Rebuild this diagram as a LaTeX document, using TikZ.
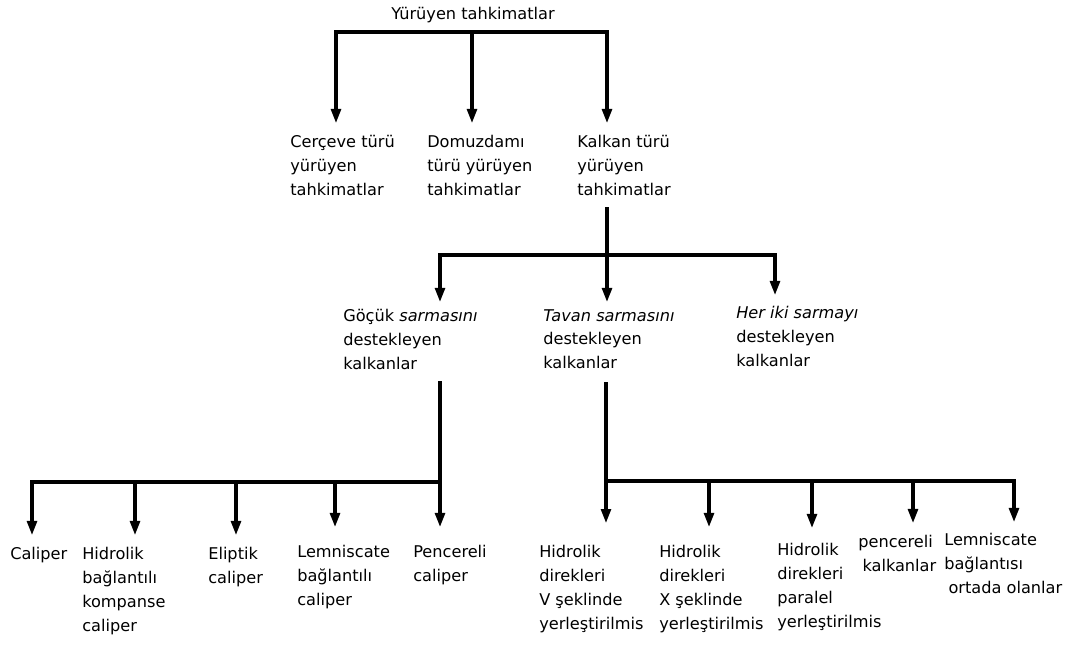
\documentclass[tikz,border=0pt]{standalone}
\usepackage{fontspec}
\setmainfont{DejaVu Sans}
\usetikzlibrary{arrows.meta}

\begin{document}
\begin{tikzpicture}[x=0.025cm, y=-0.025cm,
    bar/.style={line width=2.2pt, line cap=rect},
    arr/.style={line width=2.2pt, -{Triangle[width=7pt,length=10pt]}},
    lbl/.style={anchor=north west, inner sep=0pt, align=left, font=\fontsize{11.5}{17}\selectfont}]
\useasboundingbox (0,0) rectangle (1070,646);

% Title
\node[lbl, anchor=base] (root) at (473,19) {Yürüyen tahkimatlar};

% First level
\node[lbl] (cerceve) at (290,135) {Cerçeve türü\\yürüyen\\tahkimatlar};
\node[lbl] (domuz) at (427,135) {Domuzdamı\\türü yürüyen\\tahkimatlar};
\node[lbl] (kalkan) at (577,135) {Kalkan türü\\yürüyen\\tahkimatlar};

% Second level (shields)
\node[lbl] (gocuk) at (343,309) {Göçük \textit{sarmasını}\\destekleyen\\kalkanlar};
\node[lbl] (tavan) at (543,309) {\textit{Tavan sarmasını}\\destekleyen\\kalkanlar};
\node[lbl] (heriki) at (736,306) {\textit{Her iki sarmayı}\\destekleyen\\kalkanlar};

% Bottom level, left
\node[lbl] (caliper) at (10,547) {Caliper};
\node[lbl] (hidkomp) at (82,547) {Hidrolik\\bağlantılı\\kompanse\\caliper};
\node[lbl] (eliptik) at (208,547) {Eliptik\\caliper};
\node[lbl] (lemcal) at (297,545) {Lemniscate\\bağlantılı\\caliper};
\node[lbl] (pencal) at (413,545) {Pencereli\\caliper};

% Bottom level, right
\node[lbl] (hidV) at (539,545) {Hidrolik\\direkleri\\V şeklinde\\yerleştirilmis};
\node[lbl] (hidX) at (659,545) {Hidrolik\\direkleri\\X şeklinde\\yerleştirilmis};
\node[lbl] (hidpar) at (777,543) {Hidrolik\\direkleri\\paralel\\yerleştirilmis};
\node[lbl] (penkal) at (858,535) {pencereli\\\hspace*{3pt}kalkanlar};
\node[lbl] (lemort) at (944,533) {Lemniscate\\bağlantısı\\\hspace*{3pt}ortada olanlar};

% Bar junctions
\coordinate (a1) at (336,32);
\coordinate (a2) at (472,32);
\coordinate (a3) at (607,32);
\coordinate (b1) at (440,255);
\coordinate (b2) at (607,255);
\coordinate (b3) at (775,255);
\coordinate (c1) at (32,482);
\coordinate (c2) at (135,482);
\coordinate (c3) at (236,482);
\coordinate (c4) at (335,482);
\coordinate (c5) at (440,482);
\coordinate (d1) at (606,481);
\coordinate (d2) at (709,481);
\coordinate (d3) at (812,481);
\coordinate (d4) at (913,481);
\coordinate (d5) at (1014,481);

% Top bar
\draw[bar] (a1) -- (a3);
\foreach \c/\n/\g in {a1/cerceve/8.5, a2/domuz/8.5, a3/kalkan/8.5}
    \draw[arr, shorten >=\g pt] (\c) -- (\n.north -| \c);

% Second bar
\draw[bar, shorten <=9.2pt] (kalkan.south -| b2) -- (b2);
\draw[bar] (b1) -- (b3);
\foreach \c/\n/\g in {b1/gocuk/5, b2/tavan/5, b3/heriki/7.8}
    \draw[arr, shorten >=\g pt] (\c) -- (\n.north -| \c);

% Left bottom bar
\draw[bar, shorten <=9pt] (gocuk.south -| c5) -- (c5);
\draw[bar] (c1) -- (c5);
\foreach \c/\n/\g in {c1/caliper/8.5, c2/hidkomp/8.5, c3/eliptik/8.5, c4/lemcal/12.8, c5/pencal/12.8}
    \draw[arr, shorten >=\g pt] (\c) -- (\n.north -| \c);

% Right bottom bar
\draw[arr, shorten <=9pt, shorten >=15.6pt] (tavan.south -| d1) -- (hidV.north -| d1);
\draw[bar] (d1) -- (d5);
\foreach \c/\n/\g in {d2/hidX/12.8, d3/hidpar/10.7, d4/penkal/8.5, d5/lemort/7.8}
    \draw[arr, shorten >=\g pt] (\c) -- (\n.north -| \c);

\end{tikzpicture}
\end{document}
